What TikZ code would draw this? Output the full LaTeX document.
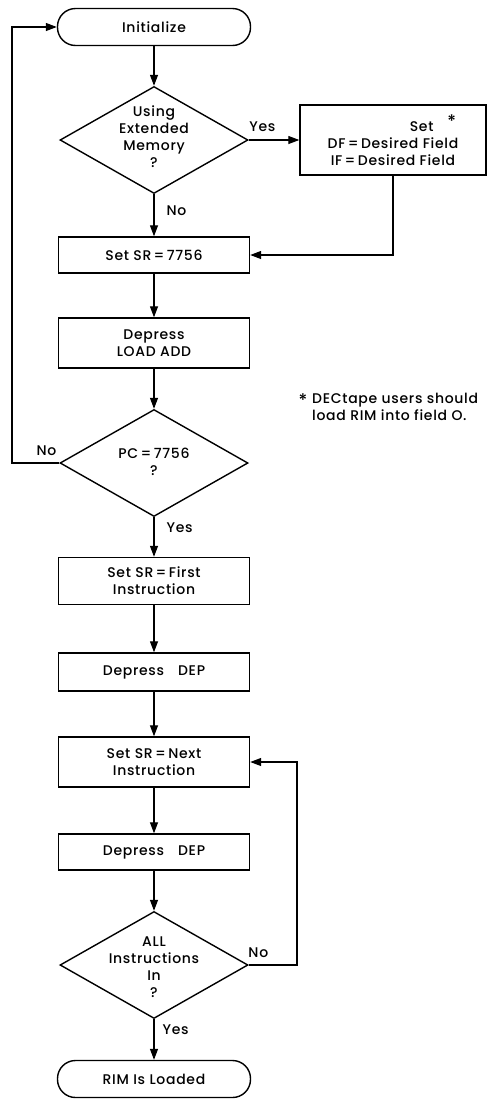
\documentclass[tikz,border=0pt]{standalone}
\usepackage{fontspec}
\setmainfont{Poppins}[UprightFont={* Medium},LetterSpace=5]
\usetikzlibrary{arrows.meta,shapes.geometric}
\begin{document}
\begin{tikzpicture}[x=1pt,y=-1pt,
  every node/.style={font=\fontsize{14}{17}\selectfont, align=center},
  arr/.style={line width=1.2pt,-{Triangle[length=11pt,width=8pt]}},
  proc/.style={draw,line width=1.4pt,minimum width=191pt,inner sep=0pt},
  term/.style={draw,line width=1.4pt,rounded corners=18pt,minimum width=193pt,minimum height=37pt,inner sep=0pt},
  dec/.style={draw,diamond,line width=1.4pt,minimum width=188pt,minimum height=107pt,inner sep=0pt,shape aspect=1.76},
  txt/.style={inner sep=0pt},
  lbl/.style={inner sep=0pt}]
\useasboundingbox (0,0) rectangle (489,1101);

\node[term] (init) at (154,27) {Initialize};
\node[dec] (d1) at (154,140) {};
\node[txt] (d1t) at (154,137) {Using\\Extended\\Memory\\?};
\node[proc,minimum width=186pt,minimum height=70pt] (df) at (393,140)
  {\hspace*{80pt}Set\hspace{14pt}\raisebox{4pt}{\LARGE *}\\DF\,=\,Desired\ Field\\IF\,=\,Desired\ Field};
\node[proc,minimum height=36pt] (sr) at (154,255) {Set SR\,=\,7756};
\node[proc,minimum height=50pt] (load) at (154,343) {Depress\\LOAD ADD};
\node[dec] (d2) at (154,463) {};
\node[txt] (d2t) at (154,462) {PC\,=\,7756\\?};
\node[proc,minimum height=47pt] (first) at (154,581) {Set SR\,=\,First\\Instruction};
\node[proc,minimum height=38pt] (dep1) at (154,672) {Depress\quad DEP};
\node[proc,minimum height=50pt] (next) at (154,762) {Set SR\,=\,Next\\Instruction};
\node[proc,minimum height=36pt] (dep2) at (154,852) {Depress\quad DEP};
\node[dec] (d3) at (154,965) {};
\node[txt] (d3t) at (154,967) {ALL\\Instructions\\In\\?};
\node[term] (rim) at (154,1079) {RIM Is Loaded};

\node[lbl] (star) at (303,400) {\LARGE *};
\node[lbl,align=left,anchor=north west] (note) at (312,393) {DECtape users should\\load RIM into field O.};

\coordinate (lp) at (12,463);
\coordinate (lt) at (12,27);
\coordinate (rp) at (297,965);

\draw[arr] (init.south) -- (d1.north);
\draw[arr] (d1.east) -- (df.west) node[lbl,pos=0.27,above=8pt] {Yes};
\draw[arr] (df.south) |- (sr.east);
\draw[arr] (d1.south) -- (sr.north) node[lbl,pos=0.4,right=12pt] {No};
\draw[arr] (sr.south) -- (load.north);
\draw[arr] (load.south) -- (d2.north);
\draw[arr] (d2.west) -- node[lbl,pos=0.27,above=7pt] {No} (lp) -- (lt) -- (init.west);
\draw[arr] (d2.south) -- (first.north) node[lbl,pos=0.27,right=12pt] {Yes};
\draw[arr] (first.south) -- (dep1.north);
\draw[arr] (dep1.south) -- (next.north);
\draw[arr] (next.south) -- (dep2.north);
\draw[arr] (dep2.south) -- (d3.north);
\draw[arr] (d3.east) -- node[lbl,pos=0.2,above=7pt] {No} (rp) |- (next.east);
\draw[arr] (d3.south) -- (rim.north) node[lbl,pos=0.26,right=8pt] {Yes};
\end{tikzpicture}
\end{document}
